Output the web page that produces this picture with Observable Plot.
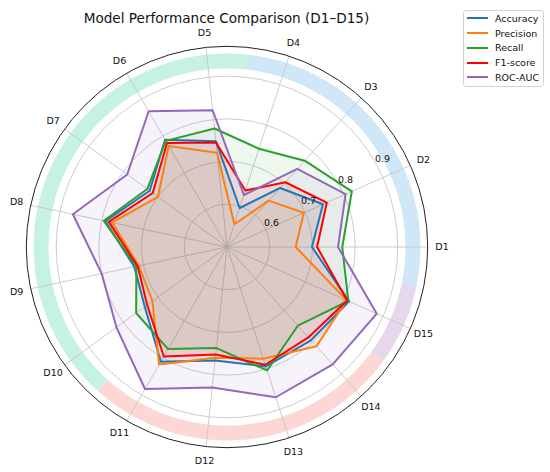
<!DOCTYPE html>
<html>
<head>
<meta charset="utf-8">
<script src="https://cdn.jsdelivr.net/npm/d3@7"></script>
<script src="https://cdn.jsdelivr.net/npm/@observablehq/plot@0.6"></script>
<style>
  body { margin: 0; background: #fff; font-family: "DejaVu Sans", sans-serif; }
  #wrap { position: relative; width: 550px; height: 472px; overflow: hidden; }
  #chart { position: absolute; left: 0; top: 0; }
  #title { position: absolute; left: 0; width: 453px; top: 9.6px; line-height: 16px; text-align: center; font-size: 13.6px; color: #111; white-space: nowrap; }
  #legend { position: absolute; left: 463px; top: 10px; width: 81px; height: 77px; border: 1px solid #d4d4d4; border-radius: 3px; box-sizing: border-box; background: rgba(255,255,255,0.8); font-size: 9.5px; color: #111; }
  .item { position: absolute; left: 2.5px; height: 14px; display: flex; align-items: center; white-space: nowrap; }
  .item svg { margin-right: 7.5px; }
</style>
</head>
<body>
<div id="wrap">
  <div id="chart"></div>
  <div id="title">Model Performance Comparison (D1–D15)</div>
  <div id="legend"></div>
</div>
<script>
// ---------------- data ----------------
const categories = ["D1","D2","D3","D4","D5","D6","D7","D8","D9","D10","D11","D12","D13","D14","D15"];
const seriesNames = ["Accuracy","Precision","Recall","F1-score","ROC-AUC"];
const accuracy  = [0.699,0.746,0.686,0.596,0.749,0.790,0.724,0.791,0.722,0.738,0.810,0.767,0.794,0.794,0.813];
const precision = [0.661,0.697,0.646,0.556,0.722,0.773,0.700,0.775,0.711,0.716,0.818,0.761,0.775,0.813,0.807];
const recall    = [0.770,0.820,0.772,0.742,0.779,0.787,0.731,0.795,0.717,0.763,0.776,0.738,0.804,0.748,0.811];
const f1score   = [0.711,0.756,0.704,0.639,0.746,0.781,0.715,0.783,0.714,0.731,0.796,0.753,0.790,0.785,0.808];
const rocAuc    = [0.760,0.804,0.746,0.628,0.822,0.867,0.789,0.869,0.800,0.820,0.884,0.831,0.870,0.870,0.884];
const categoryGroup = ["A","A","A","A","B","B","B","B","B","B","C","C","C","C","D"];
const radialTicks = [0.6, 0.7, 0.8, 0.9];
const radialMin = 0.5, radialMax = 0.97;
const bandInner = 0.918, bandOuter = 0.953;

// ---------------- styles ----------------
const seriesColors = ["#1f77b4","#ff7f0e","#2ca02c","#ff0000","#9467bd"];
const groupColors = {A: "#cfe7f6", B: "#c6f2e1", C: "#fdd7d3", D: "#e7d7ed"};
const pxPerUnit = 427, cx = 226.5, cy = 246.5;

// ---------------- geometry helpers ----------------
const n = categories.length;
const step = 2 * Math.PI / n;
const ang = i => i * step;
const px = (v, a) => (v - radialMin) * Math.cos(a);
const py = (v, a) => (v - radialMin) * Math.sin(a);

const seriesValues = [accuracy, precision, recall, f1score, rocAuc];
const rows = [];
seriesValues.forEach((vals, s) => vals.forEach((v, i) => rows.push({series: seriesNames[s], s, cat: categories[i], i, v})));

// band arcs from group membership
const groups = [...new Set(categoryGroup)];
const bandPts = [];
groups.forEach(g => {
  const idx = categoryGroup.map((c, i) => c === g ? i : -1).filter(i => i >= 0);
  const a0 = (idx[0] - 0.5) * step, a1 = (idx[idx.length - 1] + 0.5) * step;
  const steps = Math.ceil((a1 - a0) / (Math.PI / 360));
  for (let k = 0; k <= steps; k++) bandPts.push({g, a: a0 + (a1 - a0) * k / steps});
});
const bandMid = (bandInner + bandOuter) / 2;

const half = 0.5;
const marks = [];
// bands
marks.push(Plot.line(bandPts, {
  x: d => px(bandMid, d.a), y: d => py(bandMid, d.a), z: "g",
  stroke: d => groupColors[d.g], strokeWidth: (bandOuter - bandInner) * pxPerUnit,
  strokeLinecap: "butt", strokeLinejoin: "round"
}));
// grid circles
marks.push(Plot.dot(radialTicks, {x: () => 0, y: () => 0, r: d => d - radialMin, fill: "none", stroke: "#c6c6c6", strokeWidth: 0.9}));
// spokes
marks.push(Plot.link(categories, {
  x1: () => 0, y1: () => 0,
  x2: (d, i) => px(radialMax, ang(i)), y2: (d, i) => py(radialMax, ang(i)),
  stroke: "#c6c6c6", strokeWidth: 0.9
}));
// outer spine
marks.push(Plot.dot([radialMax], {x: () => 0, y: () => 0, r: d => d - radialMin, fill: "none", stroke: "#222", strokeWidth: 1}));
// fills
seriesNames.forEach((name, s) => {
  marks.push(Plot.line(rows.filter(d => d.s === s), {
    x: d => px(d.v, ang(d.i)), y: d => py(d.v, ang(d.i)),
    curve: "linear-closed", fill: seriesColors[s], fillOpacity: 0.08, stroke: "none"
  }));
});
// outlines
seriesNames.forEach((name, s) => {
  marks.push(Plot.line(rows.filter(d => d.s === s), {
    x: d => px(d.v, ang(d.i)), y: d => py(d.v, ang(d.i)),
    curve: "linear-closed", stroke: seriesColors[s], strokeWidth: 2, strokeLinejoin: "round"
  }));
});
// category labels
const labelR = radialMin + 215 / pxPerUnit;
marks.push(Plot.text(categories, {
  x: (d, i) => px(labelR, ang(i)), y: (d, i) => py(labelR, ang(i)),
  text: d => d, fontSize: 9.5, fill: "#111", textAnchor: "middle", lineAnchor: "middle"
}));
// radial tick labels at 30°
const tickAng = Math.PI / 6;
marks.push(Plot.text(radialTicks, {
  x: d => px(d, tickAng), y: d => py(d, tickAng),
  text: d => d.toFixed(1), fontSize: 9.5, fill: "#111", textAnchor: "start", lineAnchor: "bottom"
}));

const chart = Plot.plot({
  width: 550, height: 472, margin: 0,
  style: {fontFamily: "DejaVu Sans", background: "transparent", overflow: "visible"},
  x: {type: "linear", domain: [-half, half], range: [cx - half * pxPerUnit, cx + half * pxPerUnit], axis: null},
  y: {type: "linear", domain: [-half, half], range: [cy + half * pxPerUnit, cy - half * pxPerUnit], axis: null},
  r: {type: "linear", domain: [0, half], range: [0, half * pxPerUnit]},
  marks
});
document.getElementById("chart").appendChild(chart);

// legend
const legend = document.getElementById("legend");
seriesNames.forEach((name, s) => {
  const item = document.createElement("div");
  item.className = "item";
  item.style.top = (8.3 + 14.75 * s - 7 - 1) + "px";
  item.innerHTML = `<svg width="21" height="4"><line x1="0" x2="21" y1="2" y2="2" stroke="${seriesColors[s]}" stroke-width="2"/></svg><span>${name}</span>`;
  legend.appendChild(item);
});
</script>
</body>
</html>
